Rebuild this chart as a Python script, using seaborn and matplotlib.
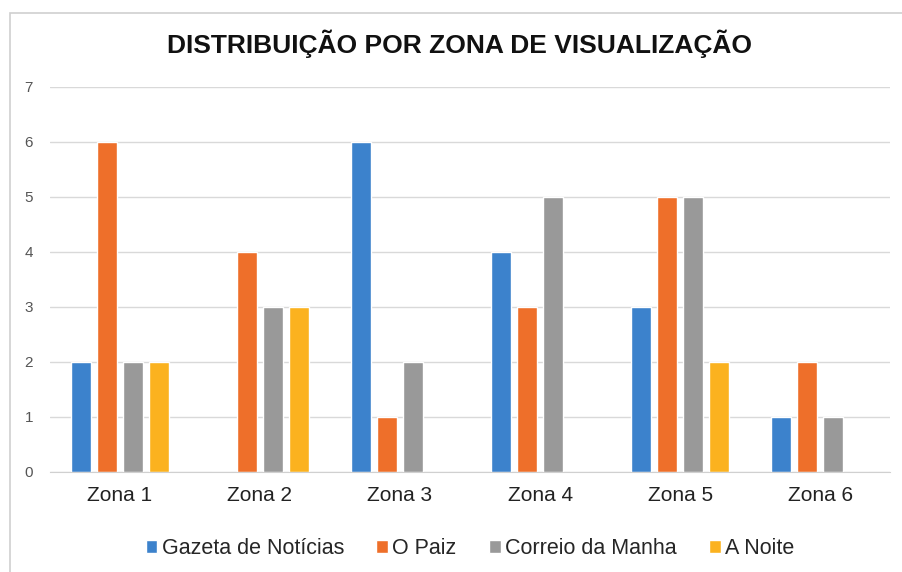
import matplotlib

matplotlib.use("Agg")
import matplotlib.pyplot as plt
import pandas as pd
import seaborn as sns
from matplotlib.patches import Rectangle

zones = ["Zona 1", "Zona 2", "Zona 3", "Zona 4", "Zona 5", "Zona 6"]
series = ["Gazeta de Notícias", "O Paiz", "Correio da Manha", "A Noite"]
gazeta = [2, 0, 6, 4, 3, 1]
o_paiz = [6, 4, 1, 3, 5, 2]
correio = [2, 3, 2, 5, 5, 1]
a_noite = [2, 3, 0, 0, 2, 0]
colors = ["#3C82CC", "#EE6F2A", "#999999", "#FBB21F"]

rows = []
for name, vals in zip(series, [gazeta, o_paiz, correio, a_noite]):
    for z, v in zip(zones, vals):
        rows.append({"zona": z, "jornal": name, "valor": v})
df = pd.DataFrame(rows)

sns.set_style("white")
plt.rcParams["font.family"] = ["Liberation Sans", "DejaVu Sans"]

fig = plt.figure(figsize=(9.03, 5.72), dpi=100)
ax = fig.add_axes([0.055, 0.175, 0.931, 0.673])

sns.barplot(data=df, x="zona", y="valor", hue="jornal", palette=colors,
            width=0.74, gap=0.23, saturation=1, ax=ax, legend=True)

ax.set_ylim(0, 7)
ax.set_yticks(range(0, 8))
ax.yaxis.grid(True, color="#d9d9d9", linewidth=1)
ax.set_axisbelow(True)
for s in ["top", "right", "left"]:
    ax.spines[s].set_visible(False)
ax.spines["bottom"].set_color("#d0d0d0")
ax.set_xlabel("")
ax.set_ylabel("")
ax.tick_params(axis="y", length=0, pad=12, labelsize=11, labelcolor="#555555")
ax.tick_params(axis="x", length=0, pad=10, labelsize=15, labelcolor="#222222")

# title sits a little right of centre in the reference
fig.suptitle("DISTRIBUIÇÃO POR ZONA DE VISUALIZAÇÃO", x=0.509, y=0.948,
             fontsize=19, fontweight="bold", color="#111111")

handles, labels = ax.get_legend_handles_labels()
ax.legend(handles, labels, loc="center", bbox_to_anchor=(0.5, -0.2), ncol=4,
          frameon=False, fontsize=15.5, handlelength=0.55, handleheight=0.55,
          handletextpad=0.2, columnspacing=1.5)

fig.patches.append(Rectangle((0.011, -0.01), 1.2, 0.988, transform=fig.transFigure,
                             fill=False, edgecolor="#cfcfcf", linewidth=1.2))

fig.savefig("out.png", dpi=100)
plt.close(fig)
